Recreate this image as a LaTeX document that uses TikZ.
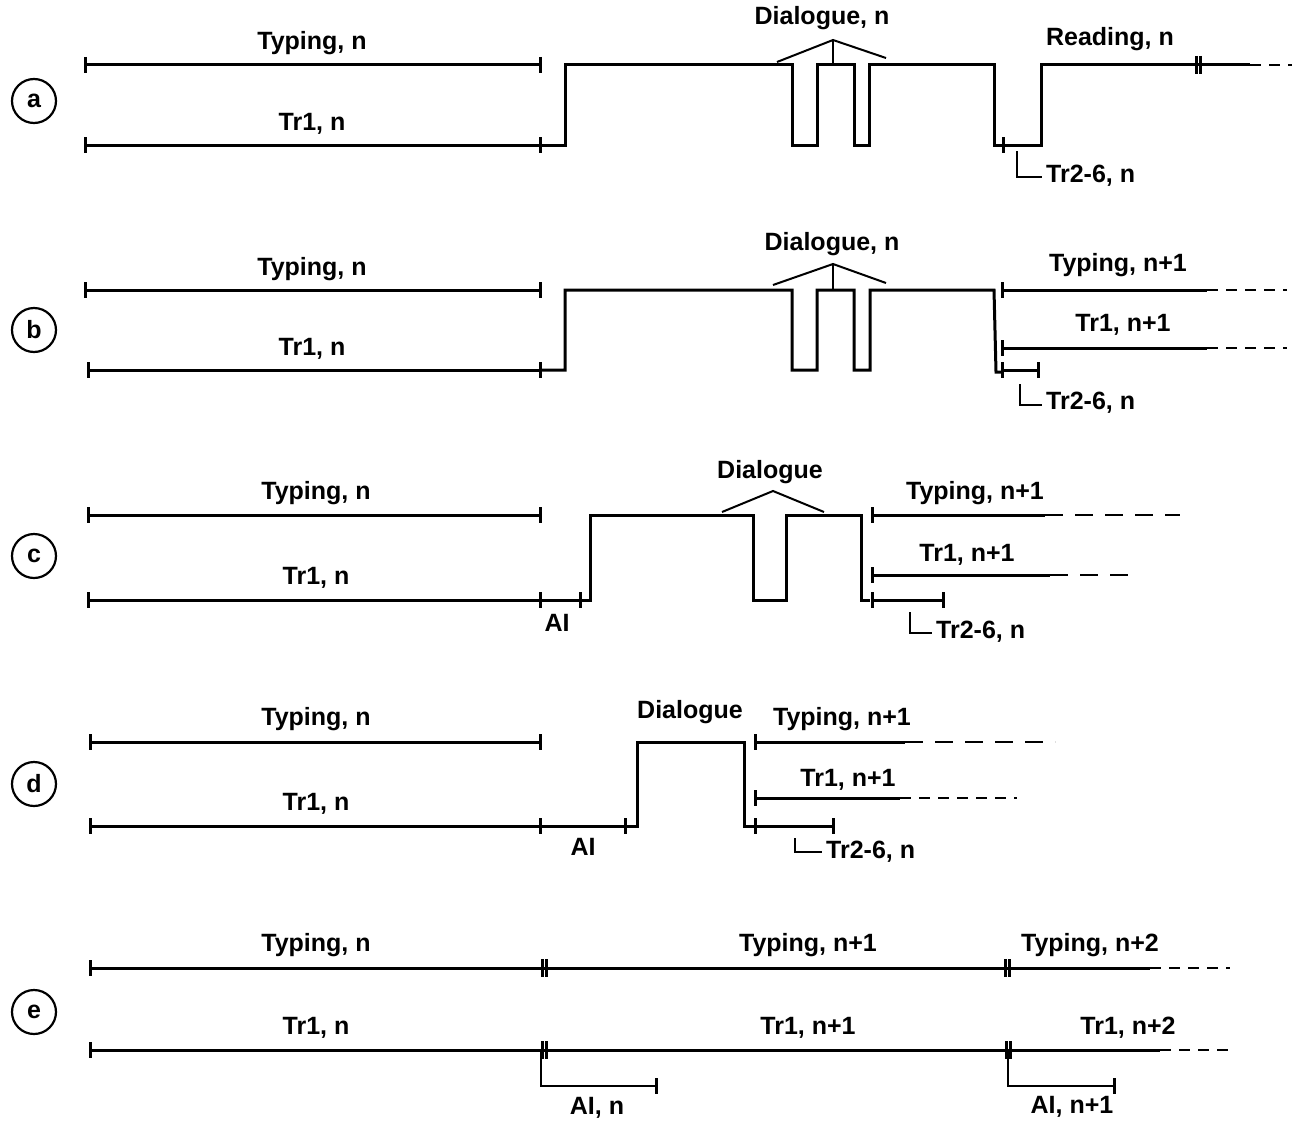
\documentclass[tikz,border=0pt]{standalone}
\usepackage{fontspec}
\setmainfont{Liberation Sans}
\newcommand\tk[2]{\draw[tl] (#1,{#2-8}) -- (#1,{#2+8});}
\newcommand\dtk[2]{\draw[tl] (#1,{#2-9}) -- (#1,{#2+9}); \draw[tl] ({#1+4},{#2-9}) -- ({#1+4},{#2+9});}
\begin{document}
\begin{tikzpicture}[x=1pt,y=-1pt,
 tl/.style={line width=3pt},
 wave/.style={line width=3pt, line join=miter},
 thinl/.style={line width=1.6pt},
 caret/.style={line width=2pt},
 dsh/.style={line width=2.8pt, dash pattern=on 11pt off 8pt},
 dshl/.style={line width=2.8pt, dash pattern=on 18pt off 12pt},
 lbl/.style={anchor=base, inner sep=0pt, yshift=2pt, font=\bfseries\fontsize{25}{29}\selectfont},
 lblw/.style={lbl, anchor=base west},
 circ/.style={draw, circle, line width=2.2pt, minimum size=44pt, inner sep=0pt, font=\bfseries\fontsize{25}{29}\selectfont}]
\useasboundingbox (0,0) rectangle (1295,1124);

% ---------------- row a ----------------
\node[circ] (ca) at (34,101) {a};
\draw[tl] (85,65) -- (540,65); \tk{85}{65}\tk{540}{65}
\node[lbl] (a1) at (312,52) {Typing, n};
\draw[tl] (85,145) -- (540,145); \tk{85}{145}\tk{540}{145}
\node[lbl] (a2) at (312,132) {Tr1, n};
\draw[wave] (540,145) -- (565,145) -- (565,65) -- (792,65) -- (792,145) -- (817,145) -- (817,65)
  -- (854,65) -- (854,145) -- (869,145) -- (869,65) -- (994,65) -- (994,145) -- (1041,145) -- (1041,65) -- (1250,65);
\draw[dsh] (1250,65) -- (1292,65);
\dtk{1196}{65}
\tk{1003}{145}
\draw[caret] (777,62) -- (833,40) -- (886,58);
\draw[caret] (833,40) -- (833,65);
\node[lbl] (a3) at (822,27) {Dialogue, n};
\node[lbl] (a4) at (1110,48) {Reading, n};
\draw[thinl] (1017,151) -- (1017,177) -- (1042,177);
\node[lblw] (a5) at (1046,184) {Tr2-6, n};

% ---------------- row b ----------------
\node[circ] (cb) at (34,330) {b};
\draw[tl] (85,290) -- (540,290); \tk{85}{290}\tk{540}{290}
\node[lbl] (b1) at (312,277) {Typing, n};
\draw[tl] (88,370) -- (540,370); \tk{88}{370}\tk{540}{370}
\node[lbl] (b2) at (312,357) {Tr1, n};
\draw[wave] (540,370) -- (565,370) -- (565,290) -- (792,290) -- (792,370) -- (817,370) -- (817,290)
  -- (854,290) -- (854,370) -- (870,370) -- (870,290) -- (994,290) -- (996,372) -- (1002,372);
\draw[caret] (773,285) -- (833,264) -- (886,283);
\draw[caret] (833,264) -- (833,290);
\node[lbl] (b3) at (832,252) {Dialogue, n};
\draw[tl] (1002,290) -- (1207,290); \tk{1002}{290}
\draw[dsh] (1207,290) -- (1287,290);
\node[lbl] (b4) at (1118,273) {Typing, n+1};
\draw[tl] (1002,348) -- (1207,348); \tk{1002}{348}
\draw[dsh] (1207,348) -- (1287,348);
\node[lbl] (b5) at (1123,333) {Tr1, n+1};
\draw[tl] (1002,370) -- (1038,370); \tk{1002}{370}\tk{1038}{370}
\draw[thinl] (1020,384) -- (1020,405) -- (1042,405);
\node[lblw] (b6) at (1046,411) {Tr2-6, n};

% ---------------- row c ----------------
\node[circ] (cc) at (34,556) {c};
\draw[tl] (88,515) -- (540,515); \tk{88}{515}\tk{540}{515}
\node[lbl] (c1) at (316,501) {Typing, n};
\draw[tl] (88,600) -- (580,600); \tk{88}{600}\tk{540}{600}\tk{580}{600}
\node[lbl] (c2) at (316,586) {Tr1, n};
\node[lbl] (c3) at (557,633) {AI};
\draw[wave] (580,600) -- (590,600) -- (590,515) -- (753,515) -- (753,600) -- (786,600) -- (786,515)
  -- (861,515) -- (861,600) -- (870,600);
\draw[caret] (722,512) -- (773,491) -- (824,512);
\node[lbl] (c4) at (770,480) {Dialogue};
\draw[tl] (872,515) -- (1045,515); \tk{872}{515}
\draw[dshl] (1045,515) -- (1180,515);
\node[lbl] (c5) at (975,501) {Typing, n+1};
\draw[tl] (872,575) -- (1050,575); \tk{872}{575}
\draw[dshl] (1050,575) -- (1138,575);
\node[lbl] (c6) at (967,563) {Tr1, n+1};
\draw[tl] (872,600) -- (943,600); \tk{872}{600}\tk{943}{600}
\draw[thinl] (910,612) -- (910,633) -- (932,633);
\node[lblw] (c7) at (936,640) {Tr2-6, n};

% ---------------- row d ----------------
\node[circ] (cd) at (34,784) {d};
\draw[tl] (90,742) -- (540,742); \tk{90}{742}\tk{540}{742}
\node[lbl] (d1) at (316,727) {Typing, n};
\draw[tl] (90,826) -- (625,826); \tk{90}{826}\tk{540}{826}\tk{625}{826}
\node[lbl] (d2) at (316,812) {Tr1, n};
\node[lbl] (d3) at (583,857) {AI};
\draw[wave] (625,826) -- (637,826) -- (637,742) -- (744,742) -- (744,826) -- (754,826);
\node[lbl] (d4) at (690,720) {Dialogue};
\draw[tl] (755,742) -- (905,742); \tk{755}{742}
\draw[dshl] (905,742) -- (1055,742);
\node[lbl] (d5) at (842,727) {Typing, n+1};
\draw[tl] (755,798) -- (900,798); \tk{755}{798}
\draw[dsh] (900,798) -- (1017,798);
\node[lbl] (d6) at (848,788) {Tr1, n+1};
\draw[tl] (755,826) -- (833,826); \tk{755}{826}\tk{833}{826}
\draw[thinl] (795,838) -- (795,852) -- (822,852);
\node[lblw] (d7) at (826,860) {Tr2-6, n};

% ---------------- row e ----------------
\node[circ] (ce) at (34,1012) {e};
\draw[tl] (90,968) -- (1150,968); \tk{90}{968}\dtk{542}{968}\dtk{1005}{968}
\draw[dsh] (1150,968) -- (1230,968);
\node[lbl] (e1) at (316,953) {Typing, n};
\node[lbl] (e2) at (808,953) {Typing, n+1};
\node[lbl] (e3) at (1090,953) {Typing, n+2};
\draw[tl] (90,1050) -- (1160,1050); \tk{90}{1050}\dtk{542}{1050}\dtk{1006}{1050}
\draw[dsh] (1160,1050) -- (1230,1050);
\node[lbl] (e4) at (316,1036) {Tr1, n};
\node[lbl] (e5) at (808,1036) {Tr1, n+1};
\node[lbl] (e6) at (1128,1036) {Tr1, n+2};
\draw[line width=2.2pt] (541,1050) -- (541,1086) -- (656,1086); \tk{656}{1086}
\node[lbl] (e7) at (597,1116) {AI, n};
\draw[line width=2.2pt] (1008,1050) -- (1008,1086) -- (1114,1086); \tk{1114}{1086}
\node[lbl] (e8) at (1072,1115) {AI, n+1};
\end{tikzpicture}
\end{document}
